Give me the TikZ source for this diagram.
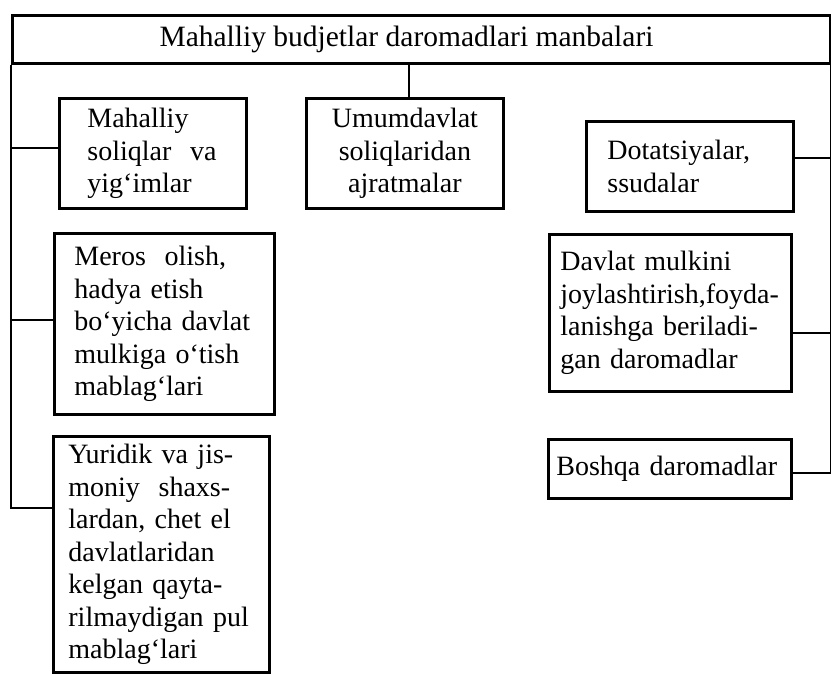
\documentclass[tikz,border=0pt]{standalone}
\usepackage{fontspec}
\setmainfont{Liberation Serif}
\begin{document}
\begin{tikzpicture}[x=1pt,y=-1pt,
  frame/.style={draw, line width=2.8pt},
  box/.style={frame, anchor=north west, align=left, inner ysep=1pt,
    font=\fontsize{28}{32.5}\selectfont},
  conn/.style={line width=2.8pt, line join=miter}]
\useasboundingbox (0,0) rectangle (831,674);
% title
\node[frame, anchor=north west, minimum width=817.5pt, minimum height=48pt, inner sep=0pt] (titlebox) at (11,14) {};
\node[anchor=base, font=\fontsize{29.5}{32}\selectfont, inner sep=0pt] (title) at (406.5,47) {Mahalliy budjetlar daromadlari manbalari};
% left column
\node[box, minimum width=187pt, minimum height=110pt, text width=131pt, inner xsep=28pt] (mah) at (58,97)
  {Mahalliy\\\mbox{soliqlar\ \ va}\\yig‘imlar};
\node[box, minimum width=220pt, minimum height=181pt, text width=180pt, inner xsep=20pt] (mer) at (53,232)
  {\mbox{Meros\ \ olish,}\\\mbox{hadya etish}\\\mbox{bo‘yicha davlat}\\\mbox{mulkiga o‘tish}\\mablag‘lari};
\node[box, minimum width=216pt, minimum height=236pt, text width=186pt, inner xsep=15pt] (yur) at (52,435)
  {\mbox{Yuridik va jis-}\\\mbox{moniy\ \ shaxs-}\\\mbox{lardan,\ chet\ el}\\davlatlaridan\\\mbox{kelgan qayta-}\\\mbox{rilmaydigan pul}\\mablag‘lari};
% middle
\node[box, align=center, minimum width=197pt, minimum height=110pt, text width=181pt, inner xsep=8pt] (umum) at (305,97)
  {Umumdavlat\\soliqlaridan\\ajratmalar};
% right column
\node[box, minimum width=207pt, minimum height=90pt, text width=165pt, inner xsep=21pt] (dot) at (585,120)
  {Dotatsiyalar,\\ssudalar};
\node[box, minimum width=242pt, minimum height=157pt, text width=220pt, inner xsep=11pt] (dav) at (548,233)
  {\mbox{Davlat mulkini}\\\mbox{joylashtirish,foyda-}\\\mbox{lanishga beriladi-}\\\mbox{gan daromadlar}};
\node[box, minimum width=243pt, minimum height=59pt, text width=227pt, inner xsep=8pt] (bos) at (547,438)
  {\mbox{Boshqa daromadlar}};
% connection points
\coordinate (mahin) at ([yshift=-51pt]mah.north west);
\coordinate (merin) at ([yshift=-88pt]mer.north west);
\coordinate (yurin) at ([yshift=-73pt]yur.north west);
\coordinate (dotin) at ([yshift=-38pt]dot.north east);
\coordinate (davin) at ([yshift=-100pt]dav.north east);
\coordinate (bosin) at ([yshift=-35pt]bos.north east);
\coordinate (umin) at ([xshift=4pt]umum.north);
% connectors
\draw[conn] (umin |- titlebox.south) -- (umin);
\draw[conn] (titlebox.south west) -- (yurin -| titlebox.south west) -- (yurin);
\draw[conn] (mahin -| titlebox.south west) -- (mahin);
\draw[conn] (merin -| titlebox.south west) -- (merin);
\draw[conn] (titlebox.south east) -- (bosin -| titlebox.south east) -- (bosin);
\draw[conn] (dotin -| titlebox.south east) -- (dotin);
\draw[conn] (davin -| titlebox.south east) -- (davin);
\end{tikzpicture}
\end{document}
